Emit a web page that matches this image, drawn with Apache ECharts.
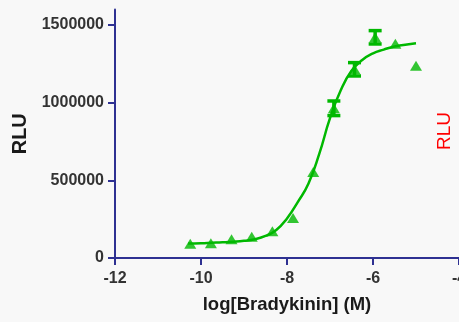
<!DOCTYPE html>
<html>
<head>
<meta charset="utf-8">
<script src="https://cdn.jsdelivr.net/npm/echarts@6/dist/echarts.min.js"></script>
<style>
html,body{margin:0;padding:0;background:#f8f8f8;}
#chart{width:459px;height:322px;}
</style>
</head>
<body>
<div id="chart"></div>
<script>
// Data
const logConc = [-10.25, -9.77, -9.29, -8.82, -8.34, -7.86, -7.39, -6.91, -6.43, -5.95, -5.48, -5.0];
const rlu     = [92000, 95000, 120000, 137000, 173000, 258000, 554000, 964000, 1215000, 1421000, 1380000, 1238000];
const rluErr  = [0, 0, 0, 0, 0, 0, 0, 47000, 43000, 43000, 0, 0];

// Fitted curve at regular steps
const fitX = [-10.3, -10.0, -9.75, -9.5, -9.25, -9.0, -8.75, -8.5, -8.25, -8.0, -7.75, -7.5, -7.25, -7.0, -6.75, -6.5, -6.25, -6.0, -5.75, -5.5, -5.25, -5.0];
const fitY = [93000, 95000, 98000, 101000, 105000, 111000, 121000, 142000, 180000, 255000, 360000, 480000, 670000, 900000, 1080000, 1205000, 1275000, 1318000, 1342000, 1362000, 1373000, 1382000];

const xTicks = [-12, -10, -8, -6, -4];
const yTicks = [0, 500000, 1000000, 1500000];

const xTitle = 'log[Bradykinin] (M)';
const yTitle = 'RLU';
const rightTitle = 'RLU';

const green = '#00b800';
const axisColor = '#2e3192';
const labelColor = '#333333';
const fontFam = '"Liberation Sans", Arial, sans-serif';

const chart = echarts.init(document.getElementById('chart'), null, {renderer: 'canvas'});

const pts = logConc.map((x, i) => [x, rlu[i]]);
const errData = logConc.map((x, i) => [x, rlu[i] - rluErr[i], rlu[i] + rluErr[i]]);
const fitData = fitX.map((x, i) => [x, fitY[i]]);

chart.setOption({
  backgroundColor: '#f8f8f8',
  animation: false,
  grid: {left: 115, right: 0, top: 9.5, bottom: 64, containLabel: false, outerBoundsMode: 'none'},
  xAxis: {
    type: 'value', min: -12, max: -4, interval: 2,
    name: xTitle, nameLocation: 'middle', nameGap: 37,
    nameTextStyle: {fontFamily: fontFam, fontWeight: 'bold', fontSize: 18.5, color: '#1a1a1a'},
    axisLine: {show: true, onZero: false, lineStyle: {color: axisColor, width: 2}},
    axisTick: {show: true, inside: false, length: 7, lineStyle: {color: axisColor, width: 2}, customValues: xTicks},
    axisLabel: {fontFamily: fontFam, fontWeight: 'bold', fontSize: 16, color: labelColor, margin: 13, customValues: xTicks,
      formatter: function (v) { return String(v); }},
    splitLine: {show: false}
  },
  yAxis: {
    type: 'value', min: 0, max: 1600000, interval: 500000,
    name: yTitle, nameLocation: 'middle', nameGap: 73, nameRotate: 90,
    nameTextStyle: {fontFamily: fontFam, fontWeight: 'bold', fontSize: 20, color: '#1a1a1a'},
    axisLine: {show: true, lineStyle: {color: axisColor, width: 2}},
    axisTick: {show: true, inside: false, length: 7, lineStyle: {color: axisColor, width: 2}, customValues: yTicks},
    axisLabel: {fontFamily: fontFam, fontWeight: 'bold', fontSize: 16, color: labelColor, margin: 11, customValues: yTicks,
      formatter: function (v) { return String(v); }},
    splitLine: {show: false}
  },
  graphic: [{
    type: 'text', x: 445, y: 131, rotation: Math.PI / 2,
    style: {text: rightTitle, fill: '#ff0000', font: '19px ' + fontFam, align: 'center', verticalAlign: 'middle'}
  }],
  series: [
    {
      type: 'line', data: fitData, smooth: 0.5, showSymbol: false,
      lineStyle: {color: green, width: 2.5}, z: 2
    },
    {
      type: 'custom', data: errData, z: 3,
      renderItem: function (params, api) {
        const x = api.value(0), lo = api.value(1), hi = api.value(2);
        if (hi - lo <= 0) return null;
        const pLo = api.coord([x, lo]);
        const pHi = api.coord([x, hi]);
        const w = 6.5;
        const st = {stroke: green, lineWidth: 3.5};
        return {type: 'group', children: [
          {type: 'line', shape: {x1: pLo[0], y1: pLo[1], x2: pHi[0], y2: pHi[1]}, style: st},
          {type: 'line', shape: {x1: pLo[0] - w, y1: pLo[1], x2: pLo[0] + w, y2: pLo[1]}, style: st},
          {type: 'line', shape: {x1: pHi[0] - w, y1: pHi[1], x2: pHi[0] + w, y2: pHi[1]}, style: st}
        ]};
      }
    },
    {
      type: 'scatter', data: pts, symbol: 'triangle', symbolSize: [12, 10],
      itemStyle: {color: green}, z: 4
    }
  ]
});
</script>
</body>
</html>
